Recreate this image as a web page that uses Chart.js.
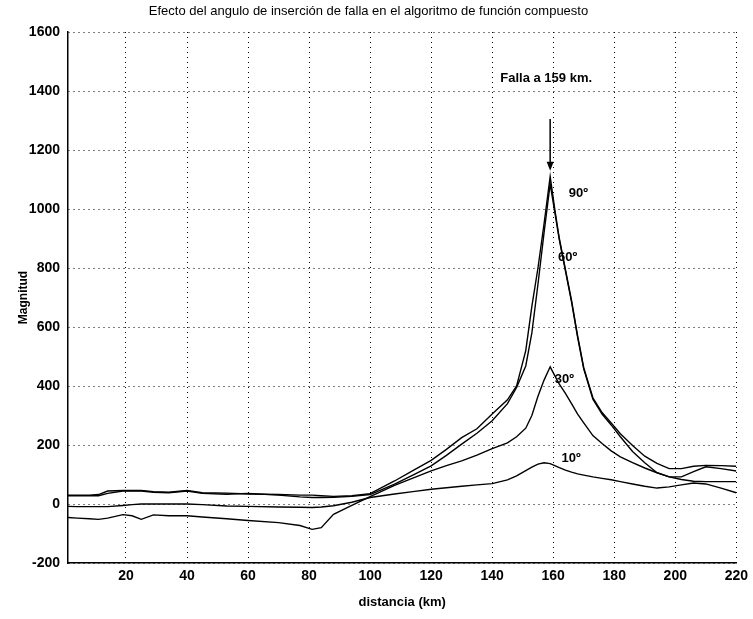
<!DOCTYPE html>
<html>
<head>
<meta charset="utf-8">
<script src="https://cdn.jsdelivr.net/npm/chart.js@4/dist/chart.umd.min.js"></script>
<style>
  body { margin: 0; background: #fff; }
</style>
</head>
<body>
<canvas id="myChart" width="753" height="619"></canvas>
<script>
// distance along the profile (km)
var km = [1, 4, 8, 11, 14, 19, 22, 25, 29, 34, 40, 45, 53, 60, 70, 77, 81, 84, 88, 94,
          100, 108, 114, 120, 125, 130, 135, 140, 145, 148, 151, 153, 155, 157, 159,
          160.5, 162, 164, 166, 168, 170, 173, 176, 179, 182, 186, 190, 194, 198, 202,
          206, 210, 215, 220];

// magnitude for each insertion angle
var mag90 = [30, 30, 30, 32, 44, 46, 46, 46, 42, 40, 46, 38, 37, 34, 32, 30, 30, 28, 26, 28,
             35, 78, 113, 148, 185, 225, 255, 305, 353, 400, 520, 670, 800, 950, 1110,
             1000, 900, 795, 690, 570, 462, 360, 310, 275, 238, 198, 162, 138, 120, 120,
             128, 131, 130, 128];
var mag60 = [28, 28, 28, 28, 36, 44, 44, 44, 40, 38, 44, 36, 33, 36, 30, 24, 22, 22, 23, 26,
             32, 67, 98, 129, 165, 203, 240, 282, 340, 395, 468, 580, 745, 920, 1085,
             990, 895, 790, 685, 565, 458, 355, 305, 268, 228, 178, 140, 106, 92, 92,
             110, 126, 120, 112];
var mag30 = [-46, -48, -50, -52, -48, -36, -40, -52, -37, -40, -40, -44, -50, -56, -63, -73, -86, -80, -35, -5,
             25, 63, 88, 112, 130, 146, 166, 188, 207, 228, 257, 300, 365, 420, 465,
             435, 406, 375, 340, 305, 275, 232, 205, 180, 160, 140, 122, 106, 92, 83,
             77, 76, 76, 76];
var mag10 = [-8, -9, -9, -9, -9, -5, -2, 0, 0, 0, 0, -2, -7, -8, -10, -11, -12, -10, -6, 6,
             22, 34, 42, 50, 55, 60, 65, 69, 82, 95, 113, 125, 135, 140, 137,
             130, 123, 115, 108, 102, 98, 92, 87, 82, 76, 68, 60, 54, 58, 65,
             71, 68, 54, 38];

var xTicks = [20, 40, 60, 80, 100, 120, 140, 160, 180, 200, 220];
var yTicks = [-200, 0, 200, 400, 600, 800, 1000, 1200, 1400, 1600];

var faultKm = 159;
var faultText = 'Falla a 159 km.';

var FONT = "'Liberation Sans', Arial, Helvetica, sans-serif";

function series(vals) {
    return km.map(function (x, i) { return { x: x, y: vals[i] }; });
}

function lineSet(label, vals) {
    return {
        label: label,
        data: series(vals),
        borderColor: '#000',
        borderWidth: 1.4,
        pointRadius: 0,
        fill: false,
        tension: 0
    };
}

// angle labels, placed in data units
var notes = [
    { text: '90º', x: 165.1, y: 1052 },
    { text: '60º', x: 161.6, y: 836 },
    { text: '30º', x: 160.5, y: 422 },
    { text: '10º', x: 162.7, y: 153 }
];

var faultNote = {
    id: 'faultNote',
    afterDatasetsDraw: function (chart) {
        var ctx = chart.ctx;
        var xs = chart.scales.x, ys = chart.scales.y;
        var ax = xs.getPixelForValue(faultKm);
        var y0 = ys.getPixelForValue(1305);
        var y1 = ys.getPixelForValue(1130);
        ctx.save();
        ctx.strokeStyle = '#000';
        ctx.fillStyle = '#000';
        ctx.lineWidth = 1.5;
        ctx.beginPath();
        ctx.moveTo(ax, y0);
        ctx.lineTo(ax, y1 - 7);
        ctx.stroke();
        ctx.beginPath();
        ctx.moveTo(ax - 3.5, y1 - 9);
        ctx.lineTo(ax + 3.5, y1 - 9);
        ctx.lineTo(ax, y1);
        ctx.closePath();
        ctx.fill();

        ctx.font = 'bold 13px ' + FONT;
        ctx.textAlign = 'center';
        ctx.textBaseline = 'middle';
        ctx.fillText(faultText, ax - 4, ys.getPixelForValue(1442));

        ctx.textAlign = 'left';
        notes.forEach(function (n) {
            ctx.fillText(n.text, xs.getPixelForValue(n.x), ys.getPixelForValue(n.y));
        });
        ctx.restore();
    }
};

function plain(v) { return String(v); }

var ctx = document.getElementById('myChart').getContext('2d');
var chart = new Chart(ctx, {
    type: 'line',
    data: {
        datasets: [
            lineSet('90º', mag90),
            lineSet('60º', mag60),
            lineSet('30º', mag30),
            lineSet('10º', mag10)
        ]
    },
    options: {
        responsive: false,
        animation: false,
        devicePixelRatio: 1,
        layout: { padding: { top: 0, right: 16, bottom: 0, left: 0 } },
        plugins: {
            legend: { display: false },
            tooltip: { enabled: false },
            title: {
                display: true,
                text: 'Efecto del angulo de inserción de falla en el algoritmo de función compuesto',
                color: '#000',
                font: { family: FONT, size: 13, weight: 'normal' },
                padding: { top: 4, bottom: 12.4 }
            }
        },
        scales: {
            x: {
                type: 'linear',
                min: 1,
                max: 220,
                afterBuildTicks: function (s) { s.ticks = xTicks.map(function (v) { return { value: v }; }); },
                afterFit: function (s) { s.height = 56; },
                ticks: {
                    color: '#000',
                    padding: 5,
                    maxRotation: 0,
                    callback: plain,
                    font: { family: FONT, size: 14, weight: 'bold' }
                },
                grid: { color: '#000', lineWidth: 1, drawTicks: false },
                border: { display: true, color: '#000', width: 1.5, dash: [1, 4] },
                title: {
                    display: true,
                    text: 'distancia (km)',
                    color: '#000',
                    font: { family: FONT, size: 13, weight: 'bold' },
                    padding: { top: 0, bottom: 9 }
                }
            },
            y: {
                min: -200,
                max: 1600,
                afterBuildTicks: function (s) { s.ticks = yTicks.map(function (v) { return { value: v }; }); },
                afterFit: function (s) { s.width = 68; },
                ticks: {
                    color: '#000',
                    padding: 8,
                    callback: plain,
                    font: { family: FONT, size: 14, weight: 'bold' }
                },
                grid: { color: '#000', lineWidth: 1, drawTicks: false },
                border: { display: true, color: '#000', width: 1.5, dash: [1, 4] },
                title: {
                    display: true,
                    text: 'Magnitud',
                    color: '#000',
                    font: { family: FONT, size: 12, weight: 'bold' },
                    padding: { top: 16, bottom: 0 }
                }
            }
        }
    },
    plugins: [faultNote]
});
</script>
</body>
</html>
